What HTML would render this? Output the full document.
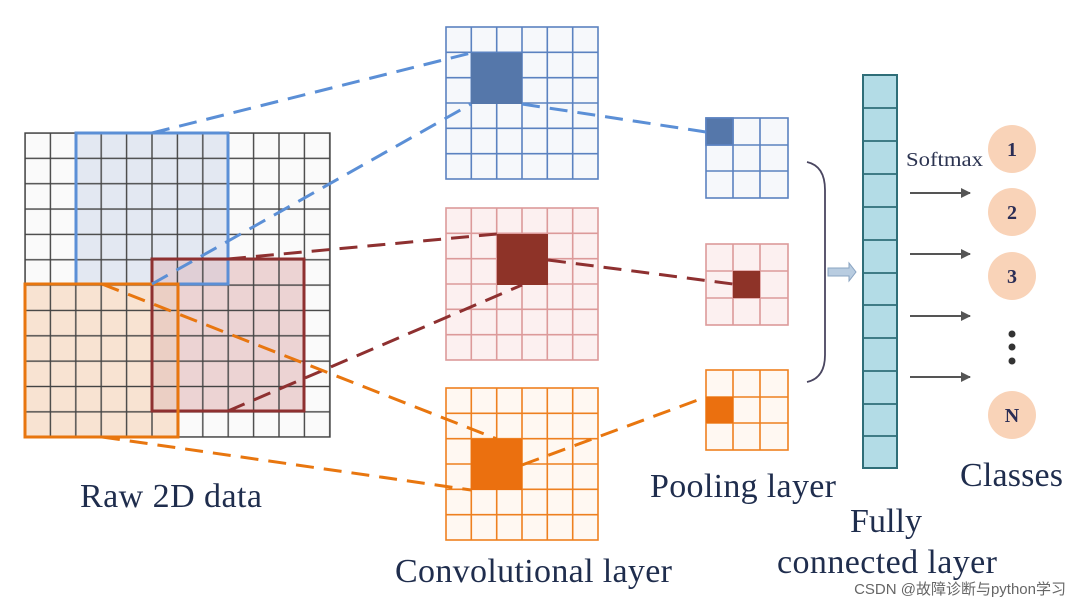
<!DOCTYPE html>
<html><head><style>
body{margin:0;background:#fff;width:1080px;height:608px;overflow:hidden}
</style></head><body>
<svg width="1080" height="608" xmlns="http://www.w3.org/2000/svg" font-family="Liberation Serif, serif">
<defs>
<pattern id="g" width="25.4" height="25.35" patternUnits="userSpaceOnUse" x="25" y="133">
<rect width="25.4" height="25.35" fill="none" stroke="#444" stroke-width="1.4"/></pattern>
<marker id="ah" markerWidth="10" markerHeight="10" refX="9" refY="5" orient="auto" markerUnits="userSpaceOnUse"><path d="M0,0 L10,5 L0,10z" fill="#555"/></marker>
</defs>
<rect x="25" y="133" width="305" height="304" fill="#fafafa"/>
<rect x="76" y="133" width="152" height="151" fill="#e3e8f2"/>
<rect x="152" y="259" width="152" height="152" fill="#ecd3d3"/>
<rect x="25" y="284" width="153" height="153" fill="#f8e3d2"/>
<rect x="152" y="284" width="26" height="127" fill="#ebcfc4"/>
<rect x="152" y="259" width="76" height="25" fill="#e0cfd6"/>
<rect x="25" y="133" width="305" height="304" fill="url(#g)"/>
<rect x="25" y="133" width="305" height="304" fill="none" stroke="#444" stroke-width="1.4"/>
<rect x="76" y="133" width="152" height="151" fill="none" stroke="#5b8fd6" stroke-width="3"/>
<rect x="152" y="259" width="152" height="152" fill="none" stroke="#8e3030" stroke-width="3"/>
<rect x="25" y="284" width="153" height="153" fill="none" stroke="#e8760f" stroke-width="3"/>
<g stroke-width="1.6">
<g stroke="#5b82c0" fill="#f6f8fb">
<rect x="446" y="27" width="152" height="152"/>
<path d="M471.3,27V179M496.7,27V179M522,27V179M547.3,27V179M572.7,27V179M446,52.3H598M446,77.7H598M446,103H598M446,128.3H598M446,153.7H598" fill="none"/>
<rect x="471" y="53" width="51" height="51" fill="#5577aa" stroke="none"/>
</g>
<g stroke="#dc9a9a" fill="#fcf0f0">
<rect x="446" y="208" width="152" height="152"/>
<path d="M471.3,208V360M496.7,208V360M522,208V360M547.3,208V360M572.7,208V360M446,233.3H598M446,258.7H598M446,284H598M446,309.3H598M446,334.7H598" fill="none"/>
<rect x="497" y="234" width="51" height="51" fill="#8e3328" stroke="none"/>
</g>
<g stroke="#ee8020" fill="#fff8f2">
<rect x="446" y="388" width="152" height="152"/>
<path d="M471.3,388V540M496.7,388V540M522,388V540M547.3,388V540M572.7,388V540M446,413.3H598M446,438.7H598M446,464H598M446,489.3H598M446,514.7H598" fill="none"/>
<rect x="471" y="439" width="51" height="51" fill="#eb700f" stroke="none"/>
</g>
<g stroke="#5b82c0" fill="#f6f8fb">
<rect x="706" y="118" width="82" height="80"/>
<rect x="706" y="118" width="27" height="27" fill="#5577aa"/>
<path d="M733,118V198M760,118V198M706,145H788M706,171H788" fill="none"/>
</g>
<g stroke="#dc9a9a" fill="#fcf0f0">
<rect x="706" y="244" width="82" height="81"/>
<path d="M733,244V325M760,244V325M706,271H788M706,298H788" fill="none"/>
<rect x="733" y="271" width="27" height="27" fill="#8e3328" stroke="none"/>
</g>
<g stroke="#ee8020" fill="#fff8f2">
<rect x="706" y="370" width="82" height="80"/>
<path d="M733,370V450M760,370V450M706,397H788M706,423H788" fill="none"/>
<rect x="706" y="397" width="27" height="26" fill="#eb700f" stroke="none"/>
</g>
</g>
<g fill="none" stroke-width="3" stroke-dasharray="18,10">
<path d="M152,133 L471,53 M152,284 L471,104 M522,104 L706,132" stroke="#5b8fd6"/>
<path d="M228,259 L497,234 M228,411 L522,285 M548,260 L733,284" stroke="#8e3030"/>
<path d="M102,284 L497,439 M102,437 L471,490 M522,465 L706,397" stroke="#e8760f"/>
</g>
<path d="M807,162 Q825,166 825,190 V355 Q825,378 807,382" fill="none" stroke="#4a4660" stroke-width="1.8"/>
<path d="M828,268 H849 V263 L856,272 L849,281 V276 H828z" fill="#b8cce0" stroke="#8aa4c2"/>
<rect x="863" y="75" width="34" height="393" fill="#b3dce6" stroke="#2f6e78" stroke-width="2"/>
<path d="M863,108H897M863,141H897M863,174H897M863,207H897M863,240H897M863,273H897M863,305H897M863,338H897M863,371H897M863,404H897M863,436H897" stroke="#2f6e78" stroke-width="1.8"/>
<g stroke="#555" stroke-width="2" marker-end="url(#ah)">
<line x1="910" y1="193" x2="970" y2="193"/><line x1="910" y1="254" x2="970" y2="254"/>
<line x1="910" y1="316" x2="970" y2="316"/><line x1="910" y1="377" x2="970" y2="377"/>
</g>
<text x="906" y="166" font-size="20" fill="#2b3350" textLength="77" lengthAdjust="spacingAndGlyphs">Softmax</text>
<g fill="#f9d3b8">
<circle cx="1012" cy="149" r="24"/><circle cx="1012" cy="212" r="24"/><circle cx="1012" cy="276" r="24"/><circle cx="1012" cy="415" r="24"/>
</g>
<g font-size="20" font-weight="bold" fill="#2b2d55" text-anchor="middle">
<text x="1012" y="156">1</text><text x="1012" y="219">2</text><text x="1012" y="283">3</text><text x="1012" y="422">N</text>
</g>
<g fill="#333"><circle cx="1012" cy="334" r="3.5"/><circle cx="1012" cy="347" r="3.5"/><circle cx="1012" cy="361" r="3.5"/></g>
<g font-size="34" fill="#1f2d4d" lengthAdjust="spacingAndGlyphs">
<text x="80" y="507" textLength="182">Raw 2D data</text>
<text x="395" y="582" textLength="277">Convolutional layer</text>
<text x="650" y="497" textLength="186">Pooling layer</text>
<text x="850" y="532" textLength="72">Fully</text>
<text x="777" y="573" textLength="220">connected layer</text>
<text x="960" y="486" textLength="103">Classes</text>
</g>
<text x="1066" y="594" font-size="15" fill="#666" text-anchor="end" font-family="Liberation Sans, Noto Sans CJK SC, sans-serif">CSDN @故障诊断与python学习</text>
</svg>
</body></html>
